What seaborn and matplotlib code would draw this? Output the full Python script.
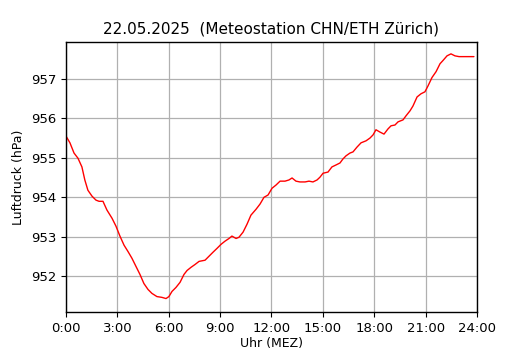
import matplotlib
matplotlib.use("Agg")
import matplotlib.pyplot as plt
import seaborn as sns
import pandas as pd

hours = [0.0, 0.23, 0.47, 0.7, 0.93, 1.1, 1.28, 1.52, 1.75, 1.93, 2.16, 2.39, 2.69, 2.92,
         3.15, 3.39, 3.62, 3.85, 4.09, 4.32, 4.55, 4.79, 5.02, 5.31, 5.6, 5.84, 6.01, 6.19,
         6.42, 6.66, 6.89, 7.07, 7.3, 7.53, 7.77, 8.12, 8.35, 8.58, 8.82, 9.05, 9.28, 9.52,
         9.69, 9.93, 10.1, 10.34, 10.57, 10.8, 11.1, 11.33, 11.56, 11.8, 12.03, 12.26, 12.5,
         12.79, 13.02, 13.2, 13.43, 13.66, 13.96, 14.19, 14.42, 14.66, 14.83, 15.01, 15.3,
         15.53, 15.77, 16.0, 16.17, 16.35, 16.58, 16.76, 16.99, 17.23, 17.52, 17.75, 17.93,
         18.1, 18.34, 18.57, 18.8, 18.98, 19.21, 19.39, 19.68, 19.85, 20.09, 20.26, 20.5,
         20.73, 20.96, 21.14, 21.37, 21.61, 21.84, 22.01, 22.25, 22.48, 22.71, 22.95, 23.24,
         23.53, 23.82]
pressure = [955.55, 955.38, 955.12, 954.99, 954.77, 954.44, 954.18, 954.03, 953.93, 953.9,
            953.9, 953.68, 953.47, 953.27, 953.02, 952.79, 952.63, 952.46, 952.25, 952.05,
            951.82, 951.67, 951.57, 951.49, 951.47, 951.44, 951.49, 951.62, 951.72, 951.85,
            952.05, 952.15, 952.23, 952.30, 952.38, 952.41, 952.51, 952.61, 952.71, 952.81,
            952.89, 952.96, 953.02, 952.96, 952.99, 953.12, 953.32, 953.55, 953.70, 953.83,
            954.0, 954.06, 954.23, 954.31, 954.41, 954.41, 954.44, 954.49, 954.41, 954.39,
            954.39, 954.41, 954.39, 954.44, 954.51, 954.61, 954.64, 954.77, 954.82, 954.87,
            954.97, 955.05, 955.12, 955.15, 955.27, 955.38, 955.43, 955.50, 955.58, 955.71,
            955.65, 955.60, 955.73, 955.81, 955.83, 955.91, 955.96, 956.06, 956.19, 956.31,
            956.54, 956.62, 956.67, 956.82, 957.03, 957.18, 957.38, 957.46, 957.58, 957.63,
            957.58, 957.56, 957.56, 957.56, 957.56]

xtick_pos = [0, 3, 6, 9, 12, 15, 18, 21, 24]
xtick_labels = ["0:00", "3:00", "6:00", "9:00", "12:00", "15:00", "18:00", "21:00", "24:00"]
ytick_pos = [952, 953, 954, 955, 956, 957]

df = pd.DataFrame({"Uhr": hours, "Luftdruck": pressure})

sns.set_style("ticks")
plt.rcParams["font.family"] = ["DejaVu Sans"]
plt.rcParams["text.color"] = "black"
plt.rcParams["axes.labelcolor"] = "black"

fig = plt.figure(figsize=(5.3, 3.5), dpi=100)
ax = fig.add_axes([0.1245, 0.1086, 0.7755, 0.7714])
sns.lineplot(data=df, x="Uhr", y="Luftdruck", ax=ax, color="red", linewidth=1)
ax.set_xlim(0, 24)
ax.set_xticks(xtick_pos)
ax.set_xticklabels(xtick_labels)
ax.set_yticks(ytick_pos)
ax.set_ylim(951.1, 957.93)
ax.grid(True, color="#b0b0b0", linewidth=0.9)
ax.set_axisbelow(True)
for s in ax.spines.values():
    s.set_color("black")
    s.set_linewidth(1)
ax.tick_params(labelsize=9.5, colors="black", labelcolor="black", length=3.5)
ax.set_xlabel("Uhr (MEZ)", fontsize=9, labelpad=2, color="black")
ax.set_ylabel("Luftdruck (hPa)", fontsize=9, color="black")
ax.set_title("22.05.2025  (Meteostation CHN/ETH Zürich)", fontsize=11, color="black")
fig.savefig("out.png", dpi=100)
